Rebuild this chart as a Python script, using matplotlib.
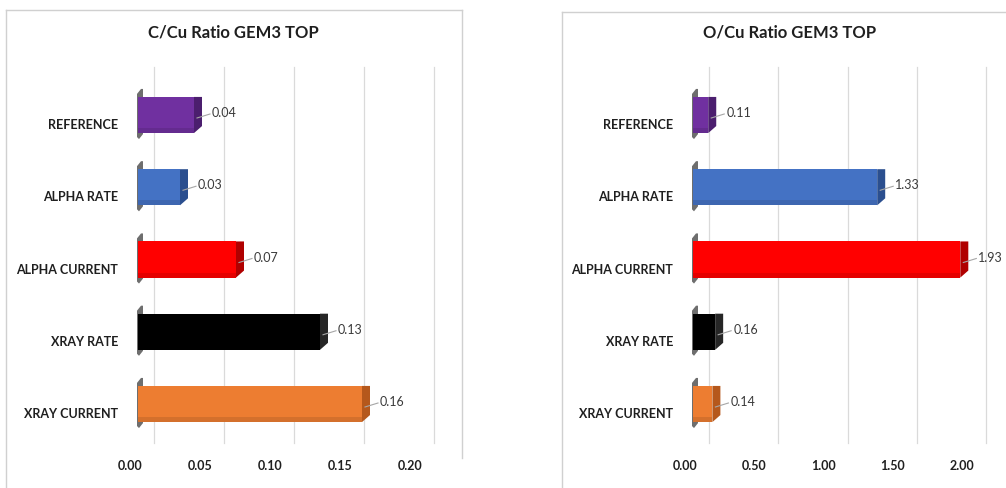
import matplotlib
matplotlib.use("Agg")
import matplotlib.pyplot as plt
from matplotlib.patches import Polygon
from matplotlib.lines import Line2D
from matplotlib.transforms import ScaledTranslation, blended_transform_factory

# ---- data ----
categories = ["REFERENCE", "ALPHA RATE", "ALPHA CURRENT", "XRAY RATE", "XRAY CURRENT"]
c_cu_ratio = [0.04, 0.03, 0.07, 0.13, 0.16]
o_cu_ratio = [0.11, 1.33, 1.93, 0.16, 0.14]
c_cu_ticks = [0.00, 0.05, 0.10, 0.15, 0.20]
o_cu_ticks = [0.00, 0.50, 1.00, 1.50, 2.00]
titles = ["C/Cu Ratio GEM3 TOP", "O/Cu Ratio GEM3 TOP"]

face_colors = ["#7030A0", "#4472C4", "#FF0000", "#000000", "#ED7D31"]
side_colors = ["#4B1E6E", "#2B4F8F", "#B00000", "#262626", "#B5581C"]

FONT = ["Lato", "DejaVu Sans"]
W, H = 1006, 488
fig = plt.figure(figsize=(W / 100, H / 100), dpi=100)
fig.patch.set_facecolor("white")


def px_axes(left, top, width, height):
    return fig.add_axes([left / W, 1 - (top + height) / H, width / W, height / H])


def shift(dx, dy):
    # offset in pixels (dy positive = upward)
    return ScaledTranslation(dx / 100, dy / 100, fig.dpi_scale_trans)


ROW = 72.25
TOP = 115 - 0.6 * ROW
HEIGHT = 5.2 * ROW


def panel(left_px, width_px, values, ticks, fmt, title, title_x):
    ax = px_axes(left_px, TOP, width_px, HEIGHT)
    ax.set_xlim(ticks[0], ticks[-1])
    ax.set_ylim(4.6, -0.6)
    ax.set_axis_off()
    ypos = list(range(len(categories)))

    # back-wall gridlines
    gtrans = blended_transform_factory(ax.transData, ax.transAxes) + shift(16, 0)
    for t in ticks:
        ax.add_line(Line2D([t, t], [0.012, 1.012], transform=gtrans,
                           color="#DADADA", lw=0.9, zorder=0, clip_on=False))

    fig.canvas.draw()
    p0 = ax.transData.transform((0, 0))
    sx = ax.transData.transform((1, 0))[0] - p0[0]
    sy = abs(ax.transData.transform((0, 1))[1] - p0[1])
    ddx, ddy = 8 / sx, 7 / sy

    half = 0.25
    ax.barh(ypos, values, height=2 * half, color=face_colors, zorder=3,
            linewidth=0)

    wx = 1 / sx
    for y, v, sc in zip(ypos, values, side_colors):
        top, bot = y - half, y + half
        # right side face of the 3-D bar
        ax.add_patch(Polygon([(v, top), (v + ddx, top), (v + ddx, bot - ddy), (v, bot)],
                             closed=True, facecolor=sc, edgecolor="none", zorder=4))
        # soft shading toward the lower edge of the front face
        ax.add_patch(Polygon([(0, bot - 0.07), (v, bot - 0.07), (v, bot), (0, bot)],
                             closed=True, facecolor="black", alpha=0.10,
                             edgecolor="none", zorder=4))
        # shaded wedge at the base wall
        ax.add_patch(Polygon([(-1 * wx, top - 3 / sy), (3 * wx, top - 8 / sy),
                              (5 * wx, top - 8 / sy), (5 * wx, bot + 1 / sy),
                              (1 * wx, bot + 6 / sy), (-1 * wx, bot + 4 / sy)],
                             closed=True, facecolor="#6E6E6E", edgecolor="none",
                             zorder=2, clip_on=False))
        # data label with leader line
        ax.add_line(Line2D([v + ddx - 5 * wx, v + ddx + 8 * wx],
                           [y + 3 / sy, y - 1 / sy], color="#A6A6A6", lw=0.8,
                           zorder=5, clip_on=False))
        ax.text(v + ddx + 10 * wx, y - 2 / sy, fmt.format(v), ha="left", va="center",
                fontsize=9, color="#3A3A3A", family=FONT, zorder=6, clip_on=False)

    # category labels
    ytrans = blended_transform_factory(ax.transAxes, ax.transData) + shift(-20, -10)
    for y, c in zip(ypos, categories):
        ax.text(0, y, c, transform=ytrans, ha="right", va="center", fontsize=9,
                fontweight="bold", color="#1F1F1F", family=FONT)

    # value axis labels
    xtrans = blended_transform_factory(ax.transData, ax.transAxes) + shift(-8, -19)
    for t in ticks:
        ax.text(t, 0, fmt.format(t), transform=xtrans, ha="center", va="center",
                fontsize=9, fontweight="bold", color="#1F1F1F", family=FONT)

    fig.text(title_x / W, 1 - 33 / H, title, ha="center", va="center",
             fontsize=12, fontweight="bold", color="#1F1F1F", family=FONT)
    return ax


panel(138, 280, c_cu_ratio, c_cu_ticks, "{:.2f}", titles[0], 233.5)
panel(693, 277, o_cu_ratio, o_cu_ticks, "{:.2f}", titles[1], 790)

# chart frames
frame_kw = dict(color="#D0D0D0", lw=1.0, transform=fig.transFigure)
for x0, x1, ytop in [(6, 462, 10), (562, 1010, 12)]:
    fig.add_artist(Line2D([x0 / W, x1 / W], [1 - ytop / H, 1 - ytop / H], **frame_kw))
    fig.add_artist(Line2D([x0 / W, x0 / W], [1 - ytop / H, 0], **frame_kw))
    if x1 < W:
        fig.add_artist(Line2D([x1 / W, x1 / W], [1 - ytop / H, 1 - 458 / H], **frame_kw))

fig.savefig("out.png", dpi=100)
